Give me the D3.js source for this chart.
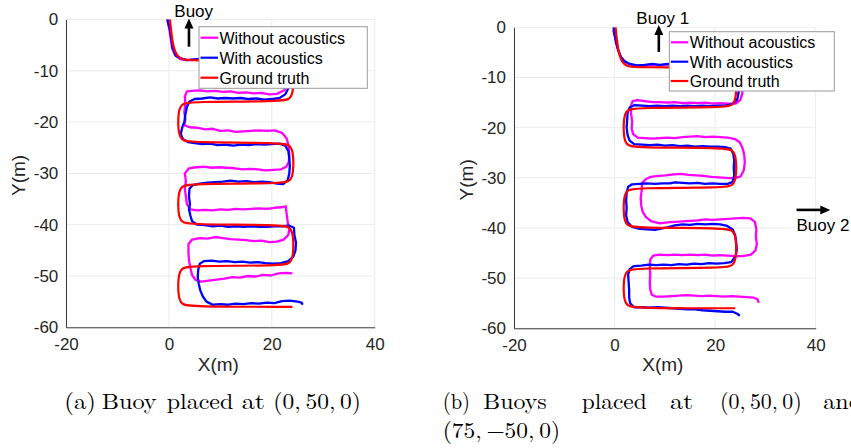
<!DOCTYPE html>
<html>
<head>
<meta charset="utf-8">
<script src="https://cdn.jsdelivr.net/npm/d3@7"></script>
<style>
  html, body { margin: 0; padding: 0; background: #fff; }
  svg { display: block; }
  .sans { font-family: "Liberation Sans", Arial, Helvetica, sans-serif; }
  .serif { font-family: "Latin Modern Roman", "CMU Serif", "Liberation Serif", "Times New Roman", serif; }
</style>
</head>
<body>
<svg id="fig" width="851" height="448"></svg>
<script>
// ---- axis ticks -------------------------------------------------------
const xTicks = [-20, 0, 20, 40];
const yTicks = [0, -10, -20, -30, -40, -50, -60];
const legendLabels = ["Without acoustics", "With acoustics", "Ground truth"];

// ---- planned lawnmower survey path (metres) ---------------------------
const groundTruth = [
  [0.2, 0], [0.5, -3], [0.9, -5.5], [1.5, -7], [2.5, -7.8], [4, -8], [22, -8],
  [23.6, -8.5], [24.2, -10], [24.2, -14], [23.6, -15.5], [22, -16], [4, -16],
  [2.4, -16.5], [1.8, -18], [1.8, -22], [2.4, -23.5], [4, -24], [22, -24],
  [23.6, -24.5], [24.2, -26], [24.2, -30], [23.6, -31.5], [22, -32], [4, -32],
  [2.4, -32.5], [1.8, -34], [1.8, -38], [2.4, -39.5], [4, -40], [22, -40],
  [23.6, -40.5], [24.2, -42], [24.2, -46], [23.6, -47.5], [22, -48], [4, -48],
  [2.4, -48.5], [1.8, -50], [1.8, -54], [2.4, -55.5], [4, -56], [24, -56]
];

// ---- (a) one buoy: dead reckoning only ---------------------------------
const noAcousticsA = [
  [-0.3, 0], [0.1, -2], [0.4, -4], [0.6, -5.5], [1.2, -7], [2.2, -7.7], [3.5, -7.9],
  [6, -7.8], [10, -8], [14, -8], [18, -8.2], [21.5, -8.4], [23, -9.5], [23.4, -11],
  [23.2, -12.5], [22.4, -13.8], [21, -14.5], [19.5, -14.6], [18, -14.3], [16.5, -14.4],
  [15, -14.2], [13.5, -14.3], [12, -14.0], [10.5, -14.1], [9, -13.9], [7.5, -14.0],
  [6, -13.8], [4.5, -13.9], [3.5, -14.0], [3.1, -15], [3.2, -16.5], [3.0, -18],
  [3.2, -19.5], [3.0, -20.6], [4, -21], [5.5, -21.1], [7, -21.4], [8.5, -21.3],
  [10, -21.7], [11.5, -21.6], [13, -21.9], [14.5, -21.8], [16, -21.7], [17.5, -21.6],
  [19, -21.7], [20.5, -21.6], [22, -22.1], [22.9, -23.2], [23.3, -24.8], [23.4, -26.5],
  [23.3, -27.8], [22.8, -28.7], [21.8, -29.2], [20.3, -29.3], [18.8, -29.4], [17.3, -29.2],
  [15.8, -29.1], [14.3, -29.2], [12.8, -29.0], [11.3, -28.9], [9.8, -28.8], [8.3, -28.9],
  [6.8, -28.7], [5.3, -28.8], [3.9, -29.0], [3.1, -30], [3.3, -31.5], [3.1, -33],
  [3.3, -34.5], [3.5, -36], [4.2, -37], [5.5, -37.2], [7, -37.1], [8.5, -37.2],
  [10, -37.0], [11.5, -37.1], [13, -36.9], [14.5, -37.0], [16, -36.9], [17.5, -36.8],
  [19, -36.9], [20.5, -36.7], [22, -36.6], [22.7, -36.4], [22.9, -38], [23.1, -39.5],
  [23.4, -41], [23.2, -42], [22.3, -42.9], [21, -43.3], [19.5, -43.4], [18, -43.1],
  [16.5, -43.2], [15, -43.0], [13.5, -42.9], [12, -42.8], [10.5, -42.6], [9, -42.4],
  [7.5, -42.7], [6, -42.6], [4.5, -42.9], [3.8, -43.8], [3.8, -45.5], [3.9, -47],
  [4.2, -48.5], [4.5, -49.8], [5.2, -50.8], [6.3, -51.1], [7.8, -50.9], [9.3, -50.7],
  [10.8, -50.5], [12.3, -50.2], [13.8, -50.3], [15.3, -50.0], [16.8, -50.1], [18.3, -49.8],
  [19.8, -49.9], [21.3, -49.5], [22.8, -49.4], [24, -49.5]
];

// ---- (a) one buoy: with acoustic ranging -------------------------------
const withAcousticsA = [
  [-0.3, 0], [0.2, -2], [0.5, -4], [0.7, -5.5], [1.3, -7], [2.3, -7.6], [3.5, -7.9],
  [6, -7.7], [10, -7.8], [14, -7.9], [18, -8], [21.5, -8.3], [23, -9.5], [23.6, -11],
  [23.4, -13], [22.6, -14.6], [21.5, -15.3], [20, -15.5], [18.5, -15.6], [17, -15.4],
  [15.5, -15.5], [14, -15.3], [12.5, -15.4], [11, -15.3], [9.5, -15.4], [8, -15.2],
  [6.5, -15.4], [5, -15.5], [4, -16], [3.5, -17], [3.2, -18.5], [3, -20], [2.6, -21],
  [2.3, -22.3], [2.7, -23.3], [3.7, -23.9], [5, -24.1], [6.5, -24.3], [8, -24.2],
  [9.5, -24.5], [11, -24.4], [12.5, -24.6], [14, -24.4], [15.5, -24.5], [17, -24.3],
  [18.5, -24.4], [20, -24.3], [21.5, -24.2], [22.6, -24.6], [23.2, -25.6], [23.4, -27],
  [23.5, -28.5], [23.4, -30], [23.1, -31.3], [22.2, -32.1], [21, -32.0], [19.5, -31.7],
  [18, -31.6], [16.5, -31.7], [15, -31.5], [13.5, -31.6], [12, -31.4], [10.5, -31.6],
  [9, -31.7], [7.5, -31.8], [6, -32.0], [4.6, -32.3], [4, -33], [3.9, -34.5], [4.1, -36],
  [3.9, -37], [4.2, -38.3], [4.5, -39.3], [5.5, -40], [7, -40.1], [8.5, -40.3],
  [10, -40.2], [11.5, -40.4], [13, -40.3], [14.5, -40.4], [16, -40.3], [17.5, -40.4],
  [19, -40.4], [20.5, -40.3], [22, -40.3], [23.4, -40.2], [24.3, -40.6], [24.4, -42],
  [24.7, -43.5], [24.6, -45], [24.2, -46.2], [23.2, -47.1], [21.8, -47.5], [20.3, -47.6],
  [18.8, -47.5], [17.3, -47.3], [15.8, -47.4], [14.3, -47.2], [12.8, -47.3], [11.3, -47.1],
  [9.8, -47.2], [8.3, -47.0], [6.8, -47.1], [6, -47.6], [5.7, -48.8], [5.6, -50.2],
  [5.8, -51.5], [6.1, -52.8], [6.6, -54], [7.3, -55], [8.5, -55.6], [10, -55.5],
  [11.5, -55.6], [13, -55.4], [14.5, -55.5], [16, -55.3], [17.5, -55.4], [19, -55.2],
  [20.5, -55.3], [22, -54.9], [23.5, -54.8], [25, -55.0], [25.8, -55.2], [26, -55.6]
];

// ---- (b) two buoys: dead reckoning only --------------------------------
const noAcousticsB = [
  [-0.3, -0.5], [0, -1.5], [0.3, -3], [0.7, -4.5], [1.2, -5.8], [1.9, -6.7], [3, -7.4],
  [4.5, -7.7], [6, -7.6], [7.5, -7.5], [9, -7.6], [10.5, -7.4], [13, -7.7], [16, -7.8],
  [19, -7.9], [22, -8.2], [24.5, -9.5], [25.4, -11.5], [25.4, -13.2], [25, -14.5],
  [24.1, -15.2], [22.5, -15.2], [21, -15.1], [19.5, -15.2], [18, -15.0], [16.5, -15.1],
  [15, -15.0], [13.5, -15.1], [12, -14.9], [10.5, -15.0], [9, -14.9], [7.5, -14.9],
  [6, -14.7], [4.5, -14.5], [3.6, -14.7], [3.2, -15.8], [3.3, -17.3], [3.5, -18.8],
  [3.4, -20.2], [3.7, -21.3], [4.6, -22.0], [6, -22.1], [7.5, -22.2], [9, -22.1],
  [10.5, -22.0], [12, -22.1], [13.5, -21.9], [15, -21.8], [16.5, -21.7], [18, -21.9],
  [19.5, -21.8], [21, -21.9], [22.5, -22.0], [24, -22.3], [24.9, -22.9], [25.5, -24.2],
  [25.8, -25.5], [25.9, -27], [25.7, -28.5], [25.1, -29.7], [23.7, -30.1], [22.2, -30.0],
  [20.7, -29.9], [19.2, -29.8], [17.7, -29.6], [16.2, -29.5], [14.7, -29.4], [13.2, -29.2],
  [11.7, -29.3], [10.2, -29.5], [8.7, -29.6], [7.2, -29.8], [6.2, -30.3], [5.5, -31],
  [5.4, -32.5], [5.2, -34], [5.3, -35.5], [5.6, -36.8], [6.3, -37.9], [7.4, -38.7],
  [9, -39.1], [10.5, -38.9], [12, -38.8], [13.5, -38.7], [15, -38.6], [16.5, -38.5],
  [18, -38.3], [19.5, -38.4], [21, -38.3], [22.5, -38.2], [24, -38.1], [25.5, -38.0],
  [27, -38.1], [27.9, -38.8], [28.2, -40.2], [28.1, -41.7], [28.3, -43.2], [28.0, -44.5],
  [27.1, -45.3], [25.5, -45.6], [24, -45.6], [22.5, -45.5], [21, -45.4], [19.5, -45.5],
  [18, -45.3], [16.5, -45.4], [15, -45.3], [13.5, -45.4], [12, -45.3], [10.5, -45.4],
  [9, -45.3], [7.7, -45.5], [7.1, -46.3], [7.0, -47.8], [7.1, -49.3], [7.0, -50.8],
  [7.1, -52.3], [7.4, -53.3], [8.3, -53.7], [9.8, -53.7], [11.3, -53.6], [12.8, -53.5],
  [14.3, -53.4], [15.8, -53.5], [17.3, -53.6], [18.8, -53.5], [20.3, -53.6], [21.8, -53.7],
  [23.3, -53.6], [24.8, -53.7], [26.3, -53.8], [27.7, -53.9], [28.4, -54.2], [28.7, -54.9]
];

// ---- (b) two buoys: with acoustic ranging ------------------------------
const withAcousticsB = [
  [-0.2, 0], [0, -1.5], [0.3, -3], [0.7, -4.5], [1.2, -5.8], [1.9, -6.7], [3, -7.3],
  [4.5, -7.6], [6, -7.5], [7.5, -7.3], [9, -7.5], [10.5, -7.3], [13, -7.6], [16, -7.7],
  [19, -7.8], [22, -8], [24, -9], [24.7, -11], [24.7, -12.8], [24.4, -14.4], [23.4, -15.3],
  [22, -15.6], [20.5, -15.6], [19, -15.7], [17.5, -15.6], [16, -15.7], [14.5, -15.6],
  [13, -15.7], [11.5, -15.6], [10, -15.7], [8.5, -15.6], [7, -15.7], [5.5, -15.6],
  [4, -15.5], [3, -16], [2.6, -17], [2.5, -18.5], [2.4, -20], [2.6, -21.5], [3, -22.6],
  [3.9, -23.3], [5.5, -23.4], [7, -23.5], [8.5, -23.4], [10, -23.6], [11.5, -23.5],
  [13, -23.7], [14.5, -23.6], [16, -23.8], [17.5, -23.7], [19, -23.8], [20.5, -23.8],
  [22, -23.9], [23.1, -24.2], [23.6, -25.2], [23.8, -26.5], [23.7, -28], [23.8, -29.5],
  [23.5, -30.8], [22.5, -31.2], [21, -31.2], [19.5, -31.1], [18, -31.2], [16.5, -31.0],
  [15, -31.1], [13.5, -31.0], [12, -30.9], [11, -31.1], [9.5, -31.1], [8, -31.2],
  [6.5, -31.1], [5, -31.2], [3.5, -31.3], [2.7, -31.8], [2.4, -33], [2.3, -34.5],
  [2.4, -36], [2.3, -37.5], [2.6, -38.8], [3.5, -39.8], [5, -40.2], [6.5, -40.3],
  [8, -40.4], [9.5, -40.1], [10.5, -39.9], [12, -39.5], [13.5, -39.3], [15, -39.4],
  [16.5, -39.2], [18, -39.3], [19.5, -39.2], [21, -39.3], [22.4, -39.6], [23.5, -40.3],
  [24, -41.5], [24.2, -43], [24.3, -44.3], [24.1, -45.6], [23.2, -46.8], [21.8, -47.0],
  [20.3, -47.1], [18.8, -47.0], [17.3, -47.2], [15.8, -47.1], [14.3, -47.3], [12.8, -47.2],
  [11.3, -47.4], [9.8, -47.3], [8.3, -47.4], [6.8, -47.3], [5.3, -47.5], [3.8, -47.6],
  [3, -48.2], [2.7, -49.3], [2.8, -50.8], [2.9, -52.3], [2.9, -53.8], [3.1, -55],
  [3.9, -55.8], [5.5, -55.8], [7, -55.9], [8.5, -55.8], [10, -55.9], [11.5, -56.0],
  [13, -56.1], [14.5, -56.2], [16, -56.2], [17.5, -56.4], [19, -56.5], [20.5, -56.6],
  [22, -56.7], [23.5, -56.7], [24.4, -57.1], [24.9, -57.5]
];

// ---- buoy direction markers (data coords: [from, to]) -----------------
const buoyArrowA = [[3.9, -5.3], [3.9, 0.2]];
const buoy1ArrowB = [[8.8, -4.9], [8.8, 0.45]];
const buoy2ArrowB = [[36.2, -36.4], [42.9, -36.4]];

// ---- drawing -----------------------------------------------------------
const TEXT = "#262626";
const GRID = "#ebebeb";
const colors = { none: "#ff00ff", with: "#0000ff", truth: "#ff0000" };

const svg = d3.select("#fig");
svg.append("rect").attr("width", 851).attr("height", 448).attr("fill", "#fff");

function arrow(g, x0, y0, x1, y1) {
  const dx = x1 - x0, dy = y1 - y0, L = Math.hypot(dx, dy);
  const ux = dx / L, uy = dy / L, hl = 10, hw = 4.5;
  g.append("line")
    .attr("x1", x0).attr("y1", y0)
    .attr("x2", x1 - ux * hl * 0.8).attr("y2", y1 - uy * hl * 0.8)
    .attr("stroke", "#000").attr("stroke-width", 2.6);
  const bx = x1 - ux * hl, by = y1 - uy * hl;
  g.append("path")
    .attr("d", `M${x1},${y1}L${bx - uy * hw},${by + ux * hw}L${bx + uy * hw},${by - ux * hw}Z`)
    .attr("fill", "#000");
}

function panel(cfg, noAc, withAc) {
  const g = svg.append("g").attr("class", "sans");
  const x = d3.scaleLinear().domain([-20, 40]).range([cfg.left, cfg.right]);
  const y = d3.scaleLinear().domain([-60, 0]).range([cfg.bottom, cfg.top]);

  // grid
  g.append("g").selectAll("line").data(xTicks).join("line")
    .attr("x1", d => x(d)).attr("x2", d => x(d))
    .attr("y1", cfg.top).attr("y2", cfg.bottom)
    .attr("stroke", GRID).attr("stroke-width", 1);
  g.append("g").selectAll("line").data(yTicks).join("line")
    .attr("y1", d => y(d)).attr("y2", d => y(d))
    .attr("x1", cfg.left).attr("x2", cfg.right)
    .attr("stroke", GRID).attr("stroke-width", 1);

  // axes
  const xAxis = d3.axisBottom(x).tickValues(xTicks).tickSize(0).tickPadding(10.7)
    .tickFormat(d => String(d));
  const yAxis = d3.axisLeft(y).tickValues(yTicks).tickSize(0).tickPadding(cfg.yPad)
    .tickFormat(d => String(d));
  const gx = g.append("g").attr("transform", `translate(0,${cfg.bottom})`).call(xAxis);
  const gy = g.append("g").attr("transform", `translate(${cfg.left},0)`).call(yAxis);
  [gx, gy].forEach(a => {
    a.select(".domain").attr("stroke", TEXT).attr("stroke-width", 0.9);
    a.selectAll("text").attr("fill", TEXT).attr("font-size", 17)
      .attr("font-family", '"Liberation Sans", Arial, sans-serif');
  });

  // axis titles
  g.append("text").attr("x", (cfg.left + cfg.right) / 2 - 2).attr("y", 371)
    .attr("text-anchor", "middle").attr("font-size", 19).attr("fill", TEXT).text("X(m)");
  g.append("text")
    .attr("transform", `translate(${cfg.yTitleX},${(cfg.top + cfg.bottom) / 2 + 2}) rotate(-90)`)
    .attr("text-anchor", "middle").attr("font-size", 19).attr("fill", TEXT).text("Y(m)");

  // trajectories
  const noisy = d3.line().x(d => x(d[0])).y(d => y(d[1]));
  const smooth = d3.line().x(d => x(d[0])).y(d => y(d[1])).curve(d3.curveBasis);
  g.append("path").datum(noAc).attr("d", noisy).attr("fill", "none")
    .attr("stroke", colors.none).attr("stroke-width", 2.3).attr("stroke-linejoin", "round");
  g.append("path").datum(withAc).attr("d", noisy).attr("fill", "none")
    .attr("stroke", colors.with).attr("stroke-width", 2.3).attr("stroke-linejoin", "round");
  g.append("path").datum(groundTruth).attr("d", smooth).attr("fill", "none")
    .attr("stroke", colors.truth).attr("stroke-width", 2.2).attr("stroke-linejoin", "round");

  // buoy markers
  cfg.arrows.forEach(a => {
    arrow(g, x(a.pts[0][0]), y(a.pts[0][1]), x(a.pts[1][0]), y(a.pts[1][1]));
    g.append("text").attr("x", a.tx).attr("y", a.ty).attr("text-anchor", a.anchor)
      .attr("font-size", 17).attr("fill", "#000").text(a.label);
  });

  // legend
  const L = cfg.legend;
  g.append("rect").attr("x", L.x).attr("y", L.y).attr("width", L.w).attr("height", L.h)
    .attr("fill", "#fff").attr("stroke", "#9a9a9a").attr("stroke-width", 1);
  const lc = [colors.none, colors.with, colors.truth];
  legendLabels.forEach((lab, i) => {
    const ry = L.rows[i];
    g.append("line").attr("x1", L.x + 1.5).attr("x2", L.x + 19)
      .attr("y1", ry).attr("y2", ry).attr("stroke", lc[i]).attr("stroke-width", 2.2);
    g.append("text").attr("x", L.x + 20.5).attr("y", ry + 5.8)
      .attr("font-size", 16).attr("fill", "#000").text(lab);
  });
}

panel({
  left: 66, right: 374.7, top: 19.5, bottom: 327.3, yPad: 7.7, yTitleX: 24.5,
  legend: { x: 199, y: 26.7, w: 168.3, h: 61.6, rows: [37.7, 57.7, 77.7] },
  arrows: [{ pts: buoyArrowA, label: "Buoy", tx: 193.7, ty: 16.7, anchor: "middle" }]
}, noAcousticsA, withAcousticsA);

panel({
  left: 514, right: 815.7, top: 27.3, bottom: 328.3, yPad: 8, yTitleX: 473,
  legend: { x: 669.3, y: 31.7, w: 165, h: 59.3, rows: [42.3, 61.7, 81] },
  arrows: [
    { pts: buoy1ArrowB, label: "Buoy 1", tx: 662.8, ty: 24, anchor: "middle" },
    { pts: buoy2ArrowB, label: "Buoy 2", tx: 796.5, ty: 231, anchor: "start" }
  ]
}, noAcousticsB, withAcousticsB);

// ---- sub-figure captions (justified words) -----------------------------
const captions = [
  { y: 408.5, words: [["(a)", 64.3, 96], ["Buoy", 101.7, 156.7], ["placed", 166.7, 233.3],
                      ["at", 241.7, 265], ["(0,\u200950,\u20090)", 273.3, 361]] },
  { y: 408.5, words: [["(b)", 442.7, 470], ["Buoys", 483.3, 546.7], ["placed", 581.7, 646.7],
                      ["at", 670, 693.3], ["(0,\u200950,\u20090)", 720, 801.7], ["and", 823.3, 862]] },
  { y: 437.5, words: [["(75,\u2009\u221250,\u20090)", 442.7, 560]] }
];
const cap = svg.append("g").attr("class", "serif");
captions.forEach(line => {
  line.words.forEach(([w, x0, x1]) => {
    cap.append("text").attr("x", x0).attr("y", line.y)
      .attr("font-size", 22).attr("fill", "#000")
      .attr("textLength", x1 - x0).attr("lengthAdjust", "spacingAndGlyphs")
      .text(w);
  });
});
</script>
</body>
</html>
